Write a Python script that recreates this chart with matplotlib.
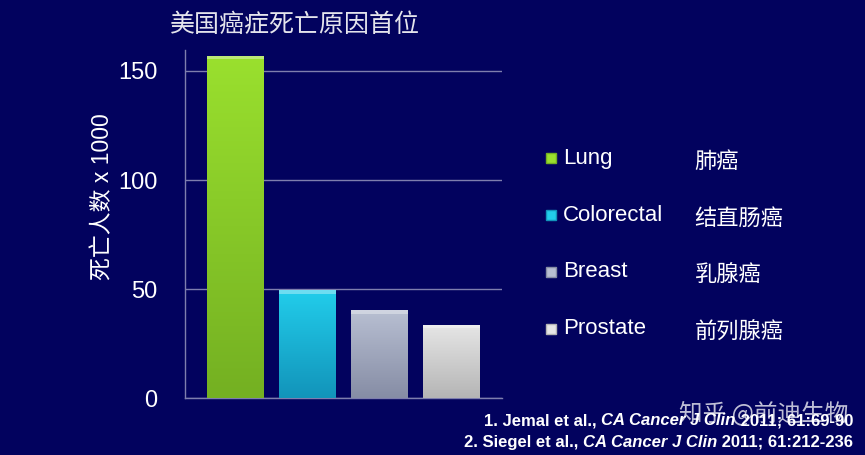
import matplotlib.pyplot as plt
import numpy as np
from matplotlib.patches import Rectangle
from matplotlib.colors import LinearSegmentedColormap

plt.rcParams['font.family'] = ['Liberation Sans', 'Noto Sans CJK SC', 'DejaVu Sans']

# data (deaths x 1000, US 2011)
cancers = ['Lung', 'Colorectal', 'Breast', 'Prostate']
cancers_cn = ['肺癌', '结直肠癌', '乳腺癌', '前列腺癌']
deaths = [156.9, 49.4, 40.2, 33.7]
yticks = [0, 50, 100, 150]

# bar colours: (top, bottom)
bar_colors = [('#9AE02E', '#74B022'), ('#22CDEB', '#1294BA'),
              ('#B8BFD2', '#868DA5'), ('#E6E6E6', '#B5B5B5')]
bg = '#02025E'
grid_c = '#7E7EAE'

fig = plt.figure(figsize=(8.65, 4.55), dpi=100, facecolor=bg)
ax = fig.add_axes([0.214, 0.125, 0.366, 0.765], facecolor=bg)

x = np.arange(len(cancers))
bars = ax.bar(x, deaths, width=0.79, color='none', zorder=3)

# gradient fill for each bar
for b, (top, bot) in zip(bars, bar_colors):
    cmap = LinearSegmentedColormap.from_list('g', [bot, top])
    grad = np.linspace(1, 0, 200).reshape(-1, 1)
    x0, w, h = b.get_x(), b.get_width(), b.get_height()
    im = ax.imshow(grad, cmap=cmap, extent=[x0, x0 + w, 0, h], aspect='auto',
                   zorder=3, vmin=0, vmax=1)
    im.set_clip_path(b)
    # bevel highlight at top
    ax.add_patch(Rectangle((x0, h - 1.6), w, 1.6, facecolor='white', alpha=0.35,
                           edgecolor='none', zorder=4))

ax.set_xlim(-0.7, 3.7)
ax.set_ylim(0, 159.6)
ax.set_yticks(yticks)
ax.set_xticks([])
ax.yaxis.grid(True, color=grid_c, linewidth=1)
ax.set_axisbelow(True)
for s in ['top', 'right']:
    ax.spines[s].set_visible(False)
for s in ['left', 'bottom']:
    ax.spines[s].set_color(grid_c)
    ax.spines[s].set_linewidth(1)
ax.tick_params(axis='y', length=0, pad=20, labelsize=17, labelcolor='white')

# y label sits a bit above the axis centre in the original
fig.text(0.119, 0.567, '死亡人数 x 1000', color='white', fontsize=16.5,
         rotation=90, ha='center', va='center')

fig.text(0.196, 0.945, '美国癌症死亡原因首位', color='#E4E4EC', fontsize=18,
         ha='left', va='center')

# legend drawn by hand
leg_y = [0.652, 0.527, 0.403, 0.278]
for name, cn, (top, bot), y in zip(cancers, cancers_cn, bar_colors, leg_y):
    fig.patches.append(Rectangle((0.631, y - 0.011), 0.0115, 0.022, facecolor=top,
                                 edgecolor=bot, linewidth=1, transform=fig.transFigure))
    fig.text(0.651, y, name, color='white', fontsize=16, va='center', ha='left')
    fig.text(0.803, y - 0.01, cn, color='white', fontsize=16, va='center', ha='left')

# references, right aligned, mixed bold / bold italic
refs = [
    [('1. Jemal et al., ', 'normal'), ('CA Cancer J Clin', 'italic'), (' 2011; 61:69-90', 'normal')],
    [('2. Siegel et al., ', 'normal'), ('CA Cancer J Clin', 'italic'), (' 2011; 61:212-236', 'normal')],
]
ref_y = [0.075, 0.028]
fig.canvas.draw()
r = fig.canvas.get_renderer()
for parts, y in zip(refs, ref_y):
    xr = 0.986
    for txt, style in reversed(parts):
        t = fig.text(xr, y, txt, color='white', fontsize=12, fontweight='bold',
                     style=style, ha='right', va='center')
        bb = t.get_window_extent(renderer=r)
        xr -= bb.width / fig.bbox.width

# watermark
fig.text(0.785, 0.092, '知乎 @前迪生物', color='white', alpha=0.75, fontsize=17,
         ha='left', va='center', family=['Noto Sans CJK SC', 'DejaVu Sans'])

fig.savefig('out.png', dpi=100, facecolor=bg)
